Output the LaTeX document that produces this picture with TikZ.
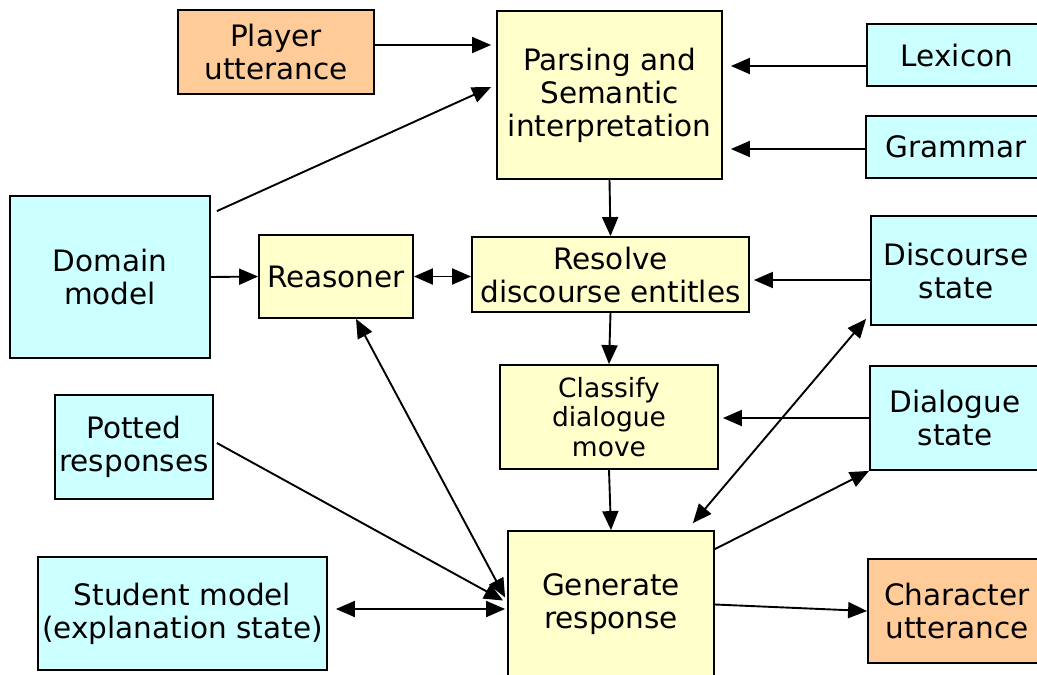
\documentclass[tikz,border=0pt]{standalone}
\usepackage{fontspec}
\setmainfont{DejaVu Sans}
\usetikzlibrary{arrows.meta}
\definecolor{cOrange}{HTML}{FFCC99}
\definecolor{cYellow}{HTML}{FFFFCC}
\definecolor{cCyan}{HTML}{CCFFFF}
\begin{document}
\begin{tikzpicture}[x=1pt,y=-1pt,
  box/.style={draw=black,line width=1.8pt,inner sep=0pt,align=center,
    font=\fontsize{29.5}{33}\selectfont},
  obox/.style={box,fill=cOrange},
  ybox/.style={box,fill=cYellow},
  cbox/.style={box,fill=cCyan},
  arr/.style={line width=1.9pt,-{Triangle[length=19pt,width=16pt]}},
  darr/.style={line width=1.9pt,{Triangle[length=19pt,width=16pt]}-{Triangle[length=19pt,width=16pt]}}]
\useasboundingbox (0,0) rectangle (1037,675);
\fill[white] (0,0) rectangle (1037,675);
\node[obox,minimum width=196pt,minimum height=84pt] (player) at (276,52) {Player\\utterance};
\node[ybox,minimum width=225pt,minimum height=168pt] (parse) at (609.5,95) {Parsing and\\Semantic\\interpretation};
\node[cbox,minimum width=180pt,minimum height=62pt] (lex) at (957,55) {Lexicon};
\node[cbox,minimum width=180pt,minimum height=62pt] (gram) at (956,147) {Grammar};
\node[cbox,minimum width=200pt,minimum height=162pt] (domain) at (110,277) {Domain\\model};
\node[ybox,minimum width=154pt,minimum height=83pt] (reason) at (336,276.5) {Reasoner};
\node[ybox,minimum width=277pt,minimum height=75pt] (resolve) at (610.5,274.5) {Resolve\\discourse entitles};
\node[cbox,minimum width=170pt,minimum height=109pt] (disc) at (956,270.5) {Discourse\\state};
\node[ybox,minimum width=218pt,minimum height=104pt,font=\fontsize{26.5}{29.5}\selectfont] (classify) at (609,417) {Classify\\dialogue\\move};
\node[cbox,minimum width=170pt,minimum height=104pt] (dial) at (955,418) {Dialogue\\state};
\node[cbox,minimum width=158pt,minimum height=104pt] (potted) at (134,447) {Potted\\responses};
\node[cbox,minimum width=289pt,minimum height=113pt] (student) at (182.5,613.5) {Student model\\(explanation state)};
\node[ybox,minimum width=206pt,minimum height=147pt] (gen) at (611,604.5) {Generate\\response};
\node[obox,minimum width=178pt,minimum height=104pt] (char) at (957,611) {Character\\utterance};

\draw[arr] ([yshift=7pt]player.east) -- ([xshift=-5pt,yshift=50pt]parse.west);
\draw[arr] ([xshift=6pt,yshift=-16pt]domain.north east) -- ([xshift=-5pt,yshift=8pt]parse.west);
\draw[arr] ([yshift=-11pt]lex.west) -- ([xshift=8pt,yshift=29pt]parse.east);
\draw[arr] ([yshift=-2pt]gram.west) -- ([xshift=8pt,yshift=-54pt]parse.east);
\draw[arr] (parse.south) -- (resolve.north);
\draw[arr] (domain.east) -- (reason.west);
\draw[darr] (reason.east) -- (reason.east -| resolve.west);
\coordinate (d1) at ([yshift=-9.5pt]disc.west);
\draw[arr,shorten >=4pt] (d1) -- (d1 -| resolve.east);
\draw[arr] (resolve.south) -- (classify.north);
\draw[arr,shorten >=4pt] (dial.west) -- (dial.west -| classify.east);
\draw[arr] (classify.south) -- (gen.north);
\draw[darr] ([xshift=-2pt,yshift=7pt]gen.west) -- ([xshift=20pt]reason.south);
\draw[arr] ([xshift=3pt,yshift=4pt]potted.east) -- ([xshift=-4pt,yshift=4pt]gen.west);
\coordinate (s1) at ([xshift=8pt,yshift=4.5pt]student.east);
\draw[darr,shorten >=2pt] (s1) -- (s1 -| gen.west);
\draw[darr] ([xshift=-22pt,yshift=7pt]gen.north east) -- ([xshift=-4pt,yshift=7pt]disc.south west);
\draw[arr] ([yshift=-19pt]gen.north east) -- (dial.south west);
\draw[arr] (gen.east) -- (char.west);
\end{tikzpicture}
\end{document}
